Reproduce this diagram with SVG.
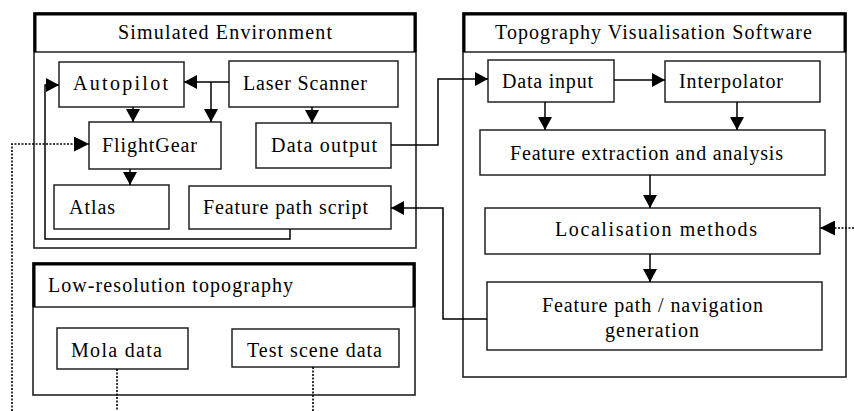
<svg xmlns="http://www.w3.org/2000/svg" width="854" height="411" viewBox="0 0 854 411">
<defs>
<marker id="ah" markerUnits="userSpaceOnUse" markerWidth="14" markerHeight="14" refX="13" refY="7" orient="auto">
<path d="M0,0 L13,7 L0,14 z" fill="#000"/>
</marker>
<marker id="ahd" markerUnits="userSpaceOnUse" markerWidth="16" markerHeight="15" refX="15" refY="7.5" orient="auto">
<path d="M0,0 L15,7.5 L0,15 z" fill="#000"/>
</marker>
</defs>
<style>
.box{fill:#fff;stroke:#222;stroke-width:1.5}
.outer{fill:#fff;stroke:#222;stroke-width:1.6}
.thick{fill:none;stroke:#000;stroke-width:3}
.t{font-family:"Liberation Serif","Times New Roman",serif;font-size:20px;fill:#000}
.c{fill:none;stroke:#000;stroke-width:1.5}
.d{fill:none;stroke:#000;stroke-width:1.6;stroke-dasharray:2 1.5}
</style>
<rect width="854" height="411" fill="#fff"/>

<g id="sim-env">
<rect class="outer" x="34" y="13" width="382" height="235"/>
<line x1="34" y1="52" x2="416" y2="52" stroke="#222" stroke-width="1.5"/>
<path class="thick" d="M35,52 V14 H415 V52"/>
<text class="t" x="118" y="39" textLength="214" lengthAdjust="spacing">Simulated Environment</text>
</g>

<g id="topo-soft">
<rect class="outer" x="463" y="13" width="383" height="364"/>
<line x1="463" y1="52" x2="846" y2="52" stroke="#222" stroke-width="1.5"/>
<path class="thick" d="M464,52 V14 H845 V52"/>
<text class="t" x="495" y="39" textLength="317" lengthAdjust="spacing">Topography Visualisation Software</text>
</g>

<g id="low-res">
<rect class="outer" x="33" y="263" width="382" height="132"/>
<line x1="33" y1="307" x2="415" y2="307" stroke="#222" stroke-width="1.5"/>
<path class="thick" d="M34,307 V264 H414 V307"/>
<text class="t" x="48" y="292" textLength="245" lengthAdjust="spacing">Low-resolution topography</text>
</g>

<g id="autopilot">
<rect class="box" x="59" y="62" width="125" height="45"/>
<text class="t" x="73" y="90" textLength="95" lengthAdjust="spacing">Autopilot</text>
</g>
<g id="laser-scanner">
<rect class="box" x="229" y="61" width="169" height="46"/>
<text class="t" x="243" y="90" textLength="124" lengthAdjust="spacing">Laser Scanner</text>
</g>
<g id="flightgear">
<rect class="box" x="89" y="122" width="132" height="47"/>
<text class="t" x="102" y="152" textLength="95" lengthAdjust="spacing">FlightGear</text>
</g>
<g id="data-output">
<rect class="box" x="256" y="123" width="135" height="45"/>
<text class="t" x="271" y="152" textLength="106" lengthAdjust="spacing">Data output</text>
</g>
<g id="atlas">
<rect class="box" x="54" y="185" width="115" height="44"/>
<text class="t" x="69" y="214" textLength="46" lengthAdjust="spacing">Atlas</text>
</g>
<g id="feature-path-script">
<rect class="box" x="189" y="186" width="202" height="43"/>
<text class="t" x="203" y="214" textLength="165" lengthAdjust="spacing">Feature path script</text>
</g>

<g id="data-input">
<rect class="box" x="488" y="60" width="126" height="42"/>
<text class="t" x="502" y="88" textLength="91" lengthAdjust="spacing">Data input</text>
</g>
<g id="interpolator">
<rect class="box" x="665" y="61" width="155" height="41"/>
<text class="t" x="679" y="88" textLength="104" lengthAdjust="spacing">Interpolator</text>
</g>
<g id="feature-extraction">
<rect class="box" x="480" y="130" width="345" height="45"/>
<text class="t" x="510" y="160" textLength="273" lengthAdjust="spacing">Feature extraction and analysis</text>
</g>
<g id="localisation">
<rect class="box" x="485" y="208" width="335" height="46"/>
<text class="t" x="555" y="236" textLength="202" lengthAdjust="spacing">Localisation methods</text>
</g>
<g id="feature-path-nav">
<rect class="box" x="487" y="282" width="335" height="68"/>
<text class="t" x="542" y="312" textLength="221" lengthAdjust="spacing">Feature path / navigation</text>
<text class="t" x="605" y="337" textLength="94" lengthAdjust="spacing">generation</text>
</g>

<g id="mola">
<rect class="box" x="57" y="328" width="131" height="41"/>
<text class="t" x="71" y="357" textLength="91" lengthAdjust="spacing">Mola data</text>
</g>
<g id="test-scene">
<rect class="box" x="232" y="329" width="167" height="38"/>
<text class="t" x="247" y="357" textLength="135" lengthAdjust="spacing">Test scene data</text>
</g>

<g id="connectors">
<path class="c" d="M229,82 H184" marker-end="url(#ah)"/>
<path class="c" d="M211,82 V122" marker-end="url(#ah)"/>
<path class="c" d="M133,107 V122" marker-end="url(#ah)"/>
<path class="c" d="M312,107 V123" marker-end="url(#ah)"/>
<path class="c" d="M130,169 V185" marker-end="url(#ah)"/>
<path class="c" d="M290,229 V239 H45 V85 H59" marker-end="url(#ah)"/>
<path class="c" d="M391,145 H438 V79 H488" marker-end="url(#ah)"/>
<path class="c" d="M614,80 H665" marker-end="url(#ah)"/>
<path class="c" d="M545,102 V130" marker-end="url(#ah)"/>
<path class="c" d="M737,102 V130" marker-end="url(#ah)"/>
<path class="c" d="M650,175 V208" marker-end="url(#ah)"/>
<path class="c" d="M650,254 V282" marker-end="url(#ah)"/>
<path class="c" d="M487,319 H443 V208 H391" marker-end="url(#ah)"/>
<path class="d" d="M854,228 H820" marker-end="url(#ahd)"/>
<path class="d" d="M12,411 V144 H89" marker-end="url(#ahd)"/>
<path class="d" d="M117,369 V411"/>
<path class="d" d="M313,367 V411"/>
</g>
</svg>
